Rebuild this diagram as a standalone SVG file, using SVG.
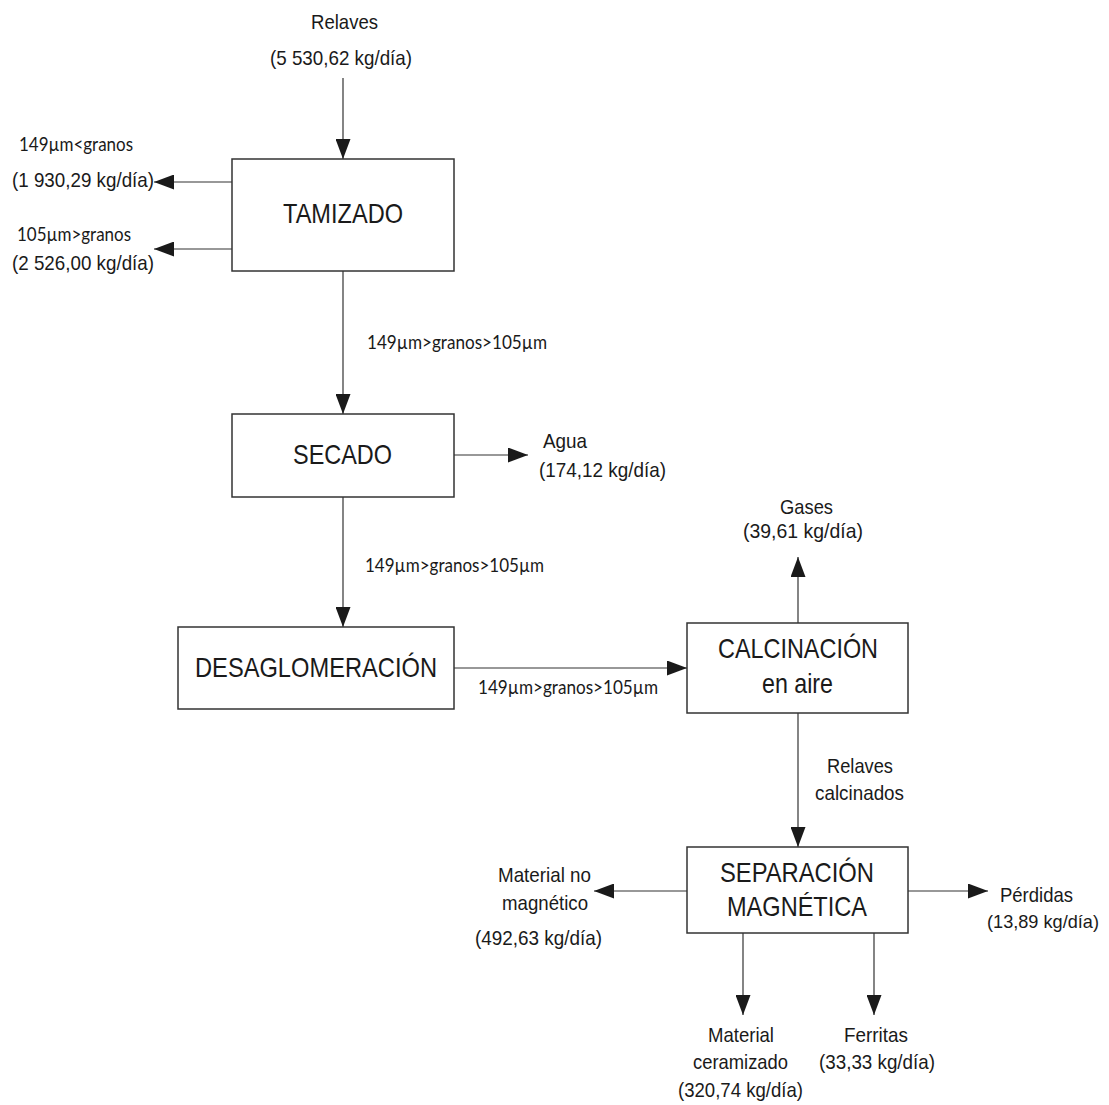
<svg xmlns="http://www.w3.org/2000/svg" width="1109" height="1105" viewBox="0 0 1109 1105">
  <style>
    .box { fill: #ffffff; stroke: #333333; stroke-width: 1.5; }
    .flow { fill: none; stroke: #333333; stroke-width: 1.2; marker-end: url(#head); }
    .title { font-family: "Liberation Sans", Arial, sans-serif; font-size: 27.5px; fill: #1a1a1a; }
    .lbl { font-family: "Liberation Sans", Arial, sans-serif; font-size: 21px; fill: #1a1a1a; }
    .lbl.edge { font-size: 19px; }
    .size { font-family: Lato, "Open Sans", sans-serif; font-size: 19px; fill: #1a1a1a; }
  </style>
  <defs>
    <marker id="head" markerUnits="userSpaceOnUse" markerWidth="20" markerHeight="15" refX="20" refY="7.5" orient="auto">
      <path d="M0,0 L20,7.5 L0,15 Z" fill="#1a1a1a"/>
    </marker>
  </defs>

  <rect width="1109" height="1105" fill="#ffffff"/>

  <!-- connectors -->
  <g id="connectors">
    <line class="flow" x1="343" y1="78" x2="343" y2="159"/>
    <line class="flow" x1="232" y1="182" x2="154" y2="182"/>
    <line class="flow" x1="232" y1="249" x2="154" y2="249"/>
    <line class="flow" x1="343" y1="271" x2="343" y2="414"/>
    <line class="flow" x1="454" y1="455" x2="528" y2="455"/>
    <line class="flow" x1="343" y1="497" x2="343" y2="627"/>
    <line class="flow" x1="454" y1="668" x2="687" y2="668"/>
    <line class="flow" x1="798" y1="623" x2="798" y2="557"/>
    <line class="flow" x1="798" y1="713" x2="798" y2="847"/>
    <line class="flow" x1="687" y1="891" x2="594" y2="891"/>
    <line class="flow" x1="908" y1="891" x2="988" y2="891"/>
    <line class="flow" x1="743" y1="933" x2="743" y2="1015"/>
    <line class="flow" x1="874" y1="933" x2="874" y2="1015"/>

    <!-- stream labels -->
    <text class="lbl" x="311" y="29" textLength="67" lengthAdjust="spacingAndGlyphs">Relaves</text>
    <text class="lbl" x="270" y="65" textLength="142" lengthAdjust="spacingAndGlyphs">(5 530,62 kg/día)</text>
    <text class="size" x="19" y="151" textLength="114" lengthAdjust="spacingAndGlyphs">149µm&lt;granos</text>
    <text class="lbl" x="12" y="187" textLength="142" lengthAdjust="spacingAndGlyphs">(1 930,29 kg/día)</text>
    <text class="size" x="17" y="241" textLength="114" lengthAdjust="spacingAndGlyphs">105µm&gt;granos</text>
    <text class="lbl" x="12" y="270" textLength="142" lengthAdjust="spacingAndGlyphs">(2 526,00 kg/día)</text>
    <text class="size" x="367" y="349" textLength="180" lengthAdjust="spacingAndGlyphs">149µm&gt;granos&gt;105µm</text>
    <text class="lbl" x="543" y="448" textLength="44" lengthAdjust="spacingAndGlyphs">Agua</text>
    <text class="lbl" x="539" y="477" textLength="127" lengthAdjust="spacingAndGlyphs">(174,12 kg/día)</text>
    <text class="size" x="365" y="572" textLength="179" lengthAdjust="spacingAndGlyphs">149µm&gt;granos&gt;105µm</text>
    <text class="size" x="478" y="694" textLength="180" lengthAdjust="spacingAndGlyphs">149µm&gt;granos&gt;105µm</text>
    <text class="lbl" x="780" y="514" textLength="53" lengthAdjust="spacingAndGlyphs">Gases</text>
    <text class="lbl" x="743" y="538" textLength="120" lengthAdjust="spacingAndGlyphs">(39,61 kg/día)</text>
    <text class="lbl" x="827" y="773" textLength="66" lengthAdjust="spacingAndGlyphs">Relaves</text>
    <text class="lbl" x="815" y="800" textLength="89" lengthAdjust="spacingAndGlyphs">calcinados</text>
    <text class="lbl" x="498" y="882" textLength="93" lengthAdjust="spacingAndGlyphs">Material no</text>
    <text class="lbl" x="502" y="910" textLength="86" lengthAdjust="spacingAndGlyphs">magnético</text>
    <text class="lbl" x="475" y="945" textLength="127" lengthAdjust="spacingAndGlyphs">(492,63 kg/día)</text>
    <text class="lbl" x="1000" y="902" textLength="73" lengthAdjust="spacingAndGlyphs">Pérdidas</text>
    <text class="lbl edge" x="987" y="928" textLength="112" lengthAdjust="spacingAndGlyphs">(13,89 kg/día)</text>
    <text class="lbl" x="708" y="1042" textLength="66" lengthAdjust="spacingAndGlyphs">Material</text>
    <text class="lbl" x="693" y="1069" textLength="95" lengthAdjust="spacingAndGlyphs">ceramizado</text>
    <text class="lbl" x="678" y="1097" textLength="125" lengthAdjust="spacingAndGlyphs">(320,74 kg/día)</text>
    <text class="lbl" x="844" y="1042" textLength="64" lengthAdjust="spacingAndGlyphs">Ferritas</text>
    <text class="lbl" x="819" y="1069" textLength="116" lengthAdjust="spacingAndGlyphs">(33,33 kg/día)</text>
  </g>

  <!-- process steps -->
  <g id="tamizado">
    <rect class="box" x="232" y="159" width="222" height="112"/>
    <text class="title" x="283" y="223" textLength="120" lengthAdjust="spacingAndGlyphs">TAMIZADO</text>
  </g>
  <g id="secado">
    <rect class="box" x="232" y="414" width="222" height="83"/>
    <text class="title" x="293" y="464" textLength="99" lengthAdjust="spacingAndGlyphs">SECADO</text>
  </g>
  <g id="desaglomeracion">
    <rect class="box" x="178" y="627" width="276" height="82"/>
    <text class="title" x="195" y="677" textLength="242" lengthAdjust="spacingAndGlyphs">DESAGLOMERACIÓN</text>
  </g>
  <g id="calcinacion">
    <rect class="box" x="687" y="623" width="221" height="90"/>
    <text class="title" x="718" y="658" textLength="160" lengthAdjust="spacingAndGlyphs">CALCINACIÓN</text>
    <text class="title" x="762" y="693" textLength="71" lengthAdjust="spacingAndGlyphs">en aire</text>
  </g>
  <g id="separacion">
    <rect class="box" x="687" y="847" width="221" height="86"/>
    <text class="title" x="720" y="882" textLength="154" lengthAdjust="spacingAndGlyphs">SEPARACIÓN</text>
    <text class="title" x="727" y="916" textLength="140" lengthAdjust="spacingAndGlyphs">MAGNÉTICA</text>
  </g>
</svg>
